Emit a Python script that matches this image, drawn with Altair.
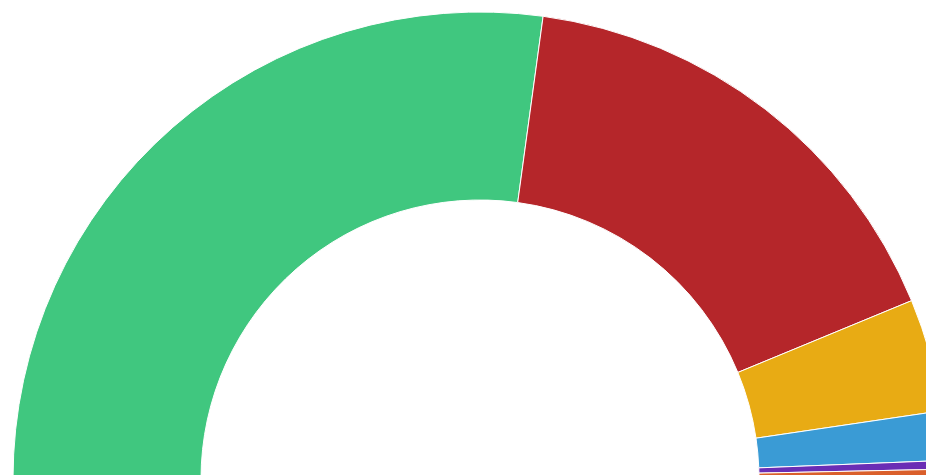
import altair as alt
import pandas as pd
import math

parties = ["A", "B", "C", "D", "E", "F"]
shares = [54.3, 33.2, 7.8, 3.4, 0.6, 0.67]
colors = ["#40C77F", "#B5262A", "#E8AB14", "#3A9BD5", "#6A2DB5", "#DA5F2B"]
order = [0, 1, 2, 3, 4, 5]

df = pd.DataFrame({"party": parties, "share": shares, "ord": order})

chart = alt.Chart(df).mark_arc(
    outerRadius=467, innerRadius=279, stroke="white", strokeWidth=1
).encode(
    x=alt.value(472),
    y=alt.value(471),
    theta=alt.Theta("share:Q", stack=True,
                    scale=alt.Scale(range=[-math.pi / 2, math.pi / 2])),
    color=alt.Color("party:N", scale=alt.Scale(domain=parties, range=colors), legend=None),
    order=alt.Order("ord:Q"),
).properties(
    width=918, height=467, padding=0,
    autosize=alt.AutoSizeParams(type="none"),
).configure_view(stroke=None)

chart.save("out.html", embed_options={"renderer": "svg", "actions": False})
